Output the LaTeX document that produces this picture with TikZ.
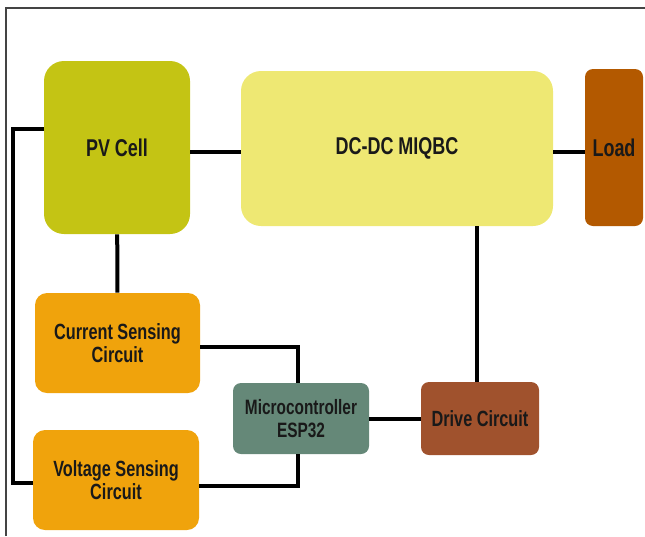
\documentclass[tikz,border=0pt]{standalone}
\usepackage{fontspec}
\setmainfont[FakeStretch=0.74]{Liberation Sans}
\usetikzlibrary{positioning}
\definecolor{pvgreen}{HTML}{C4C414}
\definecolor{conyellow}{HTML}{EEE873}
\definecolor{loadbrown}{HTML}{B35900}
\definecolor{senseorange}{HTML}{F0A30C}
\definecolor{mcugreen}{HTML}{658878}
\definecolor{drivebrown}{HTML}{A0522D}
\definecolor{framegray}{HTML}{444444}

\begin{document}
\begin{tikzpicture}[
  x=0.75pt, y=-0.75pt,
  block/.style={
    rectangle,
    align=center,
    inner sep=2pt,
    text=black!90,
    font=\bfseries\fontsize{16.5}{17.5}\selectfont
  },
  bigblock/.style={
    block,
    rounded corners=15pt,
    font=\bfseries\fontsize{18.2}{20}\selectfont
  },
  wire/.style={line width=3pt, black}
]
\useasboundingbox (0,0) rectangle (645,536);
% frame
\draw[framegray, line width=1.2pt] (6,536) -- (6,8) -- (645,8);

% top row
\node[bigblock, fill=pvgreen, minimum width=109.5pt, minimum height=129.75pt] (pv) at (117,147.5) {PV Cell};
\node[bigblock, fill=conyellow, minimum width=234pt, minimum height=116.25pt] (miqbc) at (397,148.5) {DC-DC MIQBC};
\node[bigblock, fill=loadbrown, rounded corners=6pt, minimum width=43.5pt, minimum height=117.75pt] (load) at (614,147.5) {Load};

% sensing + control
\node[block, fill=senseorange, rounded corners=9pt, minimum width=123.75pt, minimum height=75pt] (isense) at (117.5,343) {Current Sensing\\Circuit};
\node[block, fill=senseorange, rounded corners=9pt, minimum width=124.5pt, minimum height=75pt] (vsense) at (116,480) {Voltage Sensing\\Circuit};
\node[block, fill=mcugreen, rounded corners=6pt, minimum width=102pt, minimum height=53.25pt,
  font=\bfseries\fontsize{15.6}{17}\selectfont] (mcu) at (301,418.5) {Microcontroller\\ESP32};
\node[block, fill=drivebrown, rounded corners=6pt, minimum width=88.5pt, minimum height=54.75pt] (drive) at (480,418.5) {Drive Circuit};

% helper points
\coordinate (pvout) at ([yshift=-3.4pt]pv.east);
\coordinate (loop) at (13,129);
\coordinate (drvin) at ([xshift=-2.25pt]drive.north);

% wires
\draw[wire] (pvout) -- (pvout -| miqbc.west);
\draw[wire] (pvout -| miqbc.east) -- (pvout -| load.west);
\draw[wire] (pv) -- (isense);
\draw[wire] (pv.west |- loop) -- (loop) |- ([yshift=-2.25pt]vsense.west);
\draw[wire] ([yshift=-3pt]isense.east) -| ([xshift=-2.25pt]mcu.north);
\draw[wire] ([yshift=-4.5pt]vsense.east) -| ([xshift=-2.25pt]mcu.south);
\draw[wire] (mcu) -- (drive);
\draw[wire] (drvin) -- (drvin |- miqbc.south);

\end{tikzpicture}
\end{document}
